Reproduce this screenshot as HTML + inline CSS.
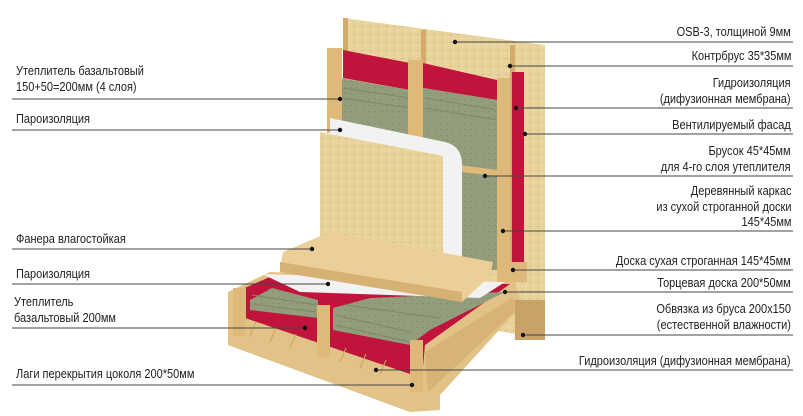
<!DOCTYPE html><html><head><meta charset="utf-8"><style>
html,body{margin:0;padding:0;background:#fff}
#w{position:relative;width:803px;height:416px;overflow:hidden;font-family:"Liberation Sans Narrow","Liberation Sans",sans-serif;font-size:12.5px;color:#222}
.t{position:absolute;line-height:15.5px;white-space:nowrap}
.r{text-align:right;right:12px;transform:scaleX(0.88);transform-origin:right top}
.l{left:16px;transform:scaleX(0.88);transform-origin:left top}
svg{position:absolute;left:0;top:0}
</style></head><body><div id="w">
<svg width="803" height="416" viewBox="0 0 803 416">
<defs>
<pattern id="osb" width="8" height="8" patternUnits="userSpaceOnUse"><rect width="8" height="8" fill="#e9d39c"/><rect x="1" y="2" width="3" height="1" fill="#d9bb78"/><rect x="5" y="6" width="2" height="1" fill="#f3e2b8"/></pattern>
<pattern id="wool" width="6" height="6" patternUnits="userSpaceOnUse"><rect width="6" height="6" fill="#929d7c"/><rect x="2" y="3" width="2" height="1" fill="#848f6e"/></pattern>
</defs>
<!-- back OSB -->
<polygon points="343,18 545,45 545,340 343,300" fill="url(#osb)"/>
<rect x="343" y="18" width="5" height="40" fill="#d2aa6a"/>
<rect x="421" y="30" width="5" height="40" fill="#d2aa6a"/>
<rect x="510" y="45" width="5" height="240" fill="#d2aa6a"/>
<polygon points="343,50 410,63 410,90 343,78" fill="#c0143c"/>
<polygon points="423,63 497,80 497,100 423,88" fill="#c0143c"/>
<rect x="512" y="72" width="12" height="195" fill="#c0143c"/>
<polygon points="340,78 410,90 410,140 340,130" fill="url(#wool)"/>
<polygon points="423,88 497,100 497,270 460,270 460,165 423,160" fill="url(#wool)"/>
<g stroke="#7d8866" stroke-width="1" fill="none"><path d="M342,88 L410,98 M342,98 L410,108 M425,98 L497,110 M425,108 L497,120"/></g>
<rect x="327" y="48" width="15" height="85" fill="#dfb97a"/>
<rect x="408" y="60" width="15" height="80" fill="#dfb97a"/>
<rect x="497" y="78" width="13" height="200" fill="#dfb97a"/>
<polygon points="460,165 497,170 497,176 460,172" fill="#dfb97a"/>
<path d="M330,118 L445,142 Q462,146 462,165 L462,262 L330,262 Z" fill="#f2f2f2"/>
<polygon points="320,132 443,156 443,258 320,258" fill="url(#osb)"/>
<!-- floor base wood -->
<polygon points="228,292 270,272 515,282 522,305 440,395 440,410 410,412 228,345" fill="#e3c287"/>
<polygon points="240,290 272,276 510,284 425,345 422,378 245,318" fill="#c0143c"/>
<polygon points="250,300 272,288 318,300 318,318 250,310" fill="url(#wool)"/>
<polygon points="333,308 370,298 505,292 430,330 410,345 333,330" fill="url(#wool)"/>
<g stroke="#7d8866" fill="none"><path d="M252,304 L316,312 M252,295 L316,305 M335,315 L410,332 M335,325 L410,342 M345,305 L440,318"/></g>
<polygon points="262,274 505,282 480,298 300,292" fill="#f2f2f2"/>
<polygon points="283,252 330,232 493,262 490,276 462,302 280,270" fill="#eccf98"/>
<polygon points="280,262 462,292 462,302 280,272" fill="#d7b074"/>
<g stroke="#c9a266" stroke-width="1"><path d="M250,336 L256,322 M270,342 L276,328 M290,348 L296,334 M340,362 L346,348 M360,368 L366,354 M380,374 L386,360"/></g>
<polygon points="425,352 512,298 522,305 428,392" fill="#d8b276"/>
<rect x="233" y="288" width="13" height="48" fill="#dfb97a"/>
<rect x="317" y="305" width="13" height="52" fill="#dfb97a"/>
<rect x="410" y="340" width="13" height="52" fill="#dfb97a"/>
<rect x="497" y="262" width="30" height="20" fill="#dfb97a"/>
<rect x="515" y="300" width="30" height="40" fill="#c9a266"/>
<g stroke="#444" stroke-width="1">
<line x1="12" y1="99" x2="340" y2="99"/><line x1="12" y1="130" x2="340" y2="130"/>
<line x1="12" y1="249" x2="312" y2="249"/><line x1="12" y1="284" x2="328" y2="284"/>
<line x1="12" y1="328" x2="305" y2="328"/><line x1="12" y1="385" x2="412" y2="385"/>
<line x1="455" y1="42" x2="793" y2="42"/><line x1="510" y1="66" x2="793" y2="66"/>
<line x1="516" y1="108" x2="793" y2="108"/><line x1="525" y1="134" x2="793" y2="134"/>
<line x1="485" y1="176" x2="793" y2="176"/><line x1="503" y1="231" x2="793" y2="231"/>
<line x1="513" y1="270" x2="793" y2="270"/><line x1="505" y1="292" x2="793" y2="292"/>
<line x1="523" y1="335" x2="793" y2="335"/><line x1="376" y1="370" x2="793" y2="370"/>
</g>
<g fill="#111">
<circle cx="340" cy="99" r="2.2"/><circle cx="340" cy="130" r="2.2"/><circle cx="312" cy="249" r="2.2"/><circle cx="328" cy="284" r="2.2"/><circle cx="305" cy="328" r="2.2"/><circle cx="412" cy="385" r="2.2"/>
<circle cx="455" cy="42" r="2.2"/><circle cx="510" cy="66" r="2.2"/><circle cx="516" cy="108" r="2.2"/><circle cx="525" cy="134" r="2.2"/><circle cx="485" cy="176" r="2.2"/><circle cx="503" cy="231" r="2.2"/><circle cx="513" cy="270" r="2.2"/><circle cx="505" cy="292" r="2.2"/><circle cx="523" cy="335" r="2.2"/><circle cx="376" cy="370" r="2.2"/>
</g>
</svg>
<div class="t l" style="top:64px">Утеплитель базальтовый<br>150+50=200мм (4 слоя)</div>
<div class="t l" style="top:112px">Пароизоляция</div>
<div class="t l" style="top:232px">Фанера влагостойкая</div>
<div class="t l" style="top:267px">Пароизоляция</div>
<div class="t l" style="left:14px;top:295px">Утеплитель<br>базальтовый 200мм</div>
<div class="t l" style="top:367px">Лаги перекрытия цоколя 200*50мм</div>
<div class="t r" style="top:25px">OSB-3, толщиной 9мм</div>
<div class="t r" style="top:49px">Контрбрус 35*35мм</div>
<div class="t r" style="top:76px">Гидроизоляция<br>(дифузионная мембрана)</div>
<div class="t r" style="top:118px">Вентилируемый фасад</div>
<div class="t r" style="top:144px">Брусок 45*45мм<br>для 4-го слоя утеплителя</div>
<div class="t r" style="top:184px">Деревянный каркас<br>из сухой строганной доски<br>145*45мм</div>
<div class="t r" style="top:254px">Доска сухая строганная 145*45мм</div>
<div class="t r" style="top:276px">Торцевая доска 200*50мм</div>
<div class="t r" style="top:302px">Обвязка из бруса 200х150<br>(естественной влажности)</div>
<div class="t r" style="top:354px">Гидроизоляция (дифузионная мембрана)</div>
</div></body></html>
